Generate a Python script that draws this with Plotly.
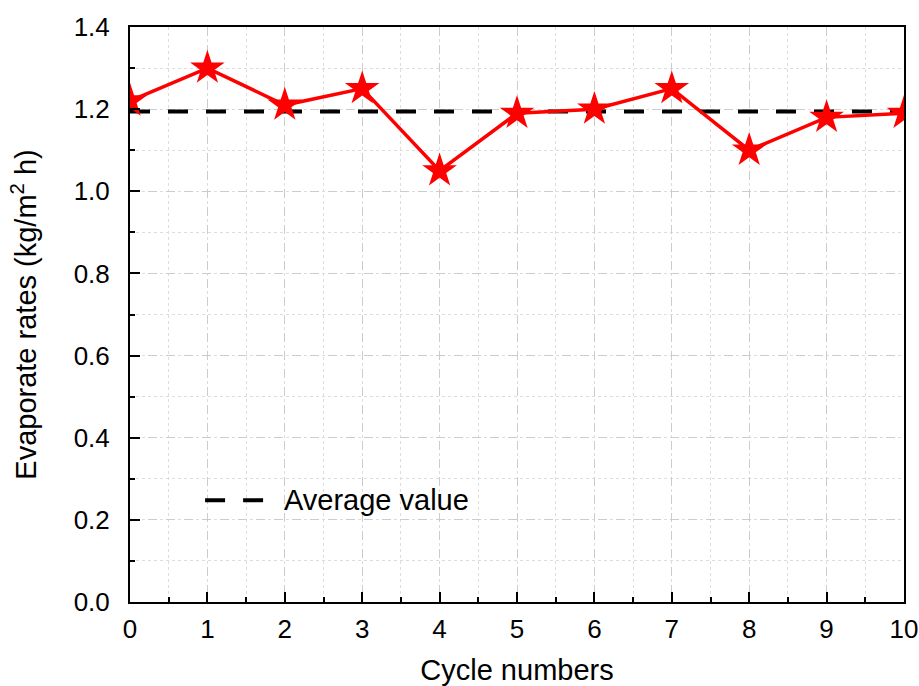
import plotly.graph_objects as go

# Evaporation rate measured over repeated cycles
cycles = [0, 1, 2, 3, 4, 5, 6, 7, 8, 9, 10]
rates = [1.22, 1.30, 1.21, 1.25, 1.05, 1.19, 1.20, 1.25, 1.10, 1.18, 1.19]
avg_rate = sum(rates) / len(rates)

x_ticks = list(range(0, 11))
y_ticks = [0.0, 0.2, 0.4, 0.6, 0.8, 1.0, 1.2, 1.4]

FONT = "Liberation Sans, Arial, sans-serif"

fig = go.Figure()

fig.add_trace(go.Scatter(
    x=[cycles[0], cycles[-1]], y=[avg_rate, avg_rate],
    mode="lines",
    line=dict(color="black", width=4, dash="20px,18px"),
    showlegend=False,
))

fig.add_trace(go.Scatter(
    x=cycles, y=rates,
    mode="lines+markers",
    line=dict(color="#ff0000", width=3.5),
    marker=dict(symbol="star", size=26, color="#ff0000", line=dict(width=0)),
    showlegend=False,
    cliponaxis=True,
))

# legend key for the average line
fig.add_shape(type="line", xref="paper", yref="paper",
              x0=0.097, x1=0.175, y0=0.177, y1=0.177,
              line=dict(color="black", width=4, dash="20px,18px"))
fig.add_annotation(xref="paper", yref="paper", x=0.197, y=0.177,
                   text="Average value", showarrow=False,
                   xanchor="left", yanchor="middle",
                   font=dict(family=FONT, size=29, color="black"))

axis_common = dict(
    showline=True, linecolor="black", linewidth=2, mirror=True,
    ticks="inside", ticklen=10, tickwidth=2, tickcolor="black",
    showgrid=True, gridcolor="#cccccc", gridwidth=1, griddash="dash",
    zeroline=False, automargin=False,
    tickfont=dict(family=FONT, size=26, color="black"),
)

fig.update_xaxes(
    range=[0, 10], tickvals=x_ticks, ticktext=[str(v) for v in x_ticks],
    ticklabelstandoff=3,
    title=dict(text="Cycle numbers", font=dict(family=FONT, size=29, color="black"), standoff=18),
    minor=dict(dtick=0.5, ticks="inside", ticklen=5, tickwidth=2, tickcolor="black",
               showgrid=True, gridcolor="#dddddd", griddash="dot", gridwidth=1),
    **axis_common,
)
fig.update_yaxes(
    range=[0, 1.4], tickvals=y_ticks, ticktext=[f"{v:.1f}" for v in y_ticks],
    ticklabelstandoff=13,
    title=dict(text="Evaporate rates (kg/m<sup>2</sup> h)", font=dict(family=FONT, size=29, color="black"), standoff=28),
    minor=dict(dtick=0.1, ticks="inside", ticklen=5, tickwidth=2, tickcolor="black",
               showgrid=True, gridcolor="#dddddd", griddash="dot", gridwidth=1),
    **axis_common,
)

fig.update_layout(
    width=919, height=686,
    margin=dict(l=130, r=15, t=27, b=84),
    plot_bgcolor="white", paper_bgcolor="white",
    font=dict(family=FONT, color="black"),
)

fig.write_html("out.html")
